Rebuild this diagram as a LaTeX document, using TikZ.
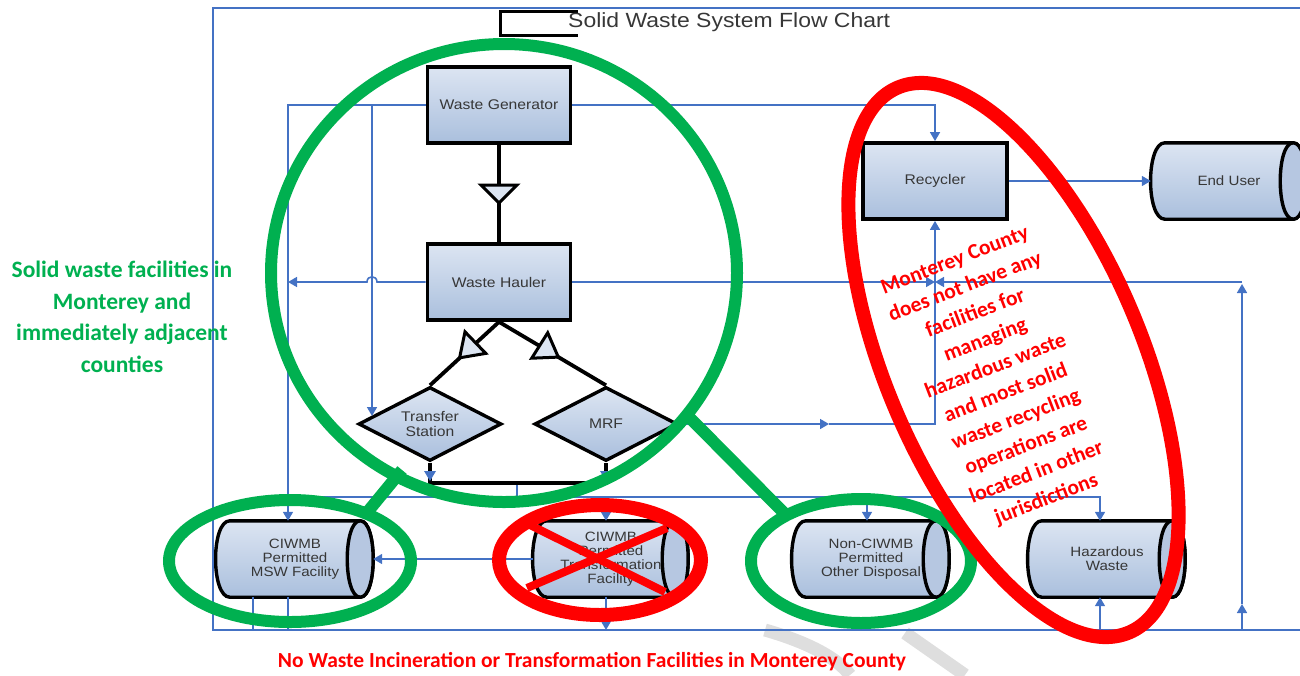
\documentclass[tikz,border=0pt]{standalone}
\usepackage{fontspec}
\setmainfont{Liberation Sans}
\newfontfamily\calib{Carlito}
\usetikzlibrary{arrows.meta,shapes.geometric,calc,backgrounds}
\definecolor{lblue}{RGB}{68,114,196}
\definecolor{boxtop}{RGB}{220,229,242}
\definecolor{boxbot}{RGB}{170,191,221}
\definecolor{capfill}{RGB}{182,199,225}
\definecolor{txtgray}{RGB}{55,55,55}
\definecolor{grn}{RGB}{0,176,80}
\definecolor{rd}{RGB}{255,0,0}
\definecolor{wm}{RGB}{222,222,222}
\newcommand\sx[1]{\scalebox{1.12}[1]{#1}}
\newcommand\cylshape[1]{%
  \path[cylb] (#1.north west) -- (#1.north east)
     .. controls +(17.3,0) and +(17.3,0) .. (#1.south east)
     -- (#1.south west)
     .. controls +(-19,0) and +(-19,0) .. (#1.north west) -- cycle;
  \path[cylc] (#1.north east)
     .. controls +(17.3,0) and +(17.3,0) .. (#1.south east)
     .. controls +(-17.3,0) and +(-17.3,0) .. (#1.north east) -- cycle;}
\tikzset{
  fl/.style={draw=lblue, line width=1.6pt},
  ar/.style={fl, -{Triangle[length=9pt,width=10pt]}},
  blk/.style={draw=black, line width=3.8pt},
  tri/.style={draw=black, line width=3pt, fill=boxtop, line join=miter},
  boxn/.style={rectangle, draw=black, line width=3.8pt, top color=boxtop, bottom color=boxbot,
     minimum width=143pt, minimum height=76pt, font=\fontsize{14}{16}\selectfont, text=txtgray},
  dia/.style={diamond, aspect=1.93, draw=black, line width=3.4pt, top color=boxtop, bottom color=boxbot,
     minimum width=143pt, minimum height=74pt, inner sep=0pt, font=\fontsize{14}{15.5}\selectfont,
     text=txtgray, align=center},
  cylt/.style={rectangle, draw=none, minimum height=76pt, inner sep=0pt,
     font=\fontsize{13.5}{14}\selectfont, text=txtgray, align=center},
  cylb/.style={draw=black, line width=3.4pt, top color=boxtop, bottom color=boxbot},
  cylc/.style={draw=black, line width=3.4pt, fill=capfill},
  gring/.style={draw=grn, line width=12pt},
  rring/.style={draw=rd, line width=14pt},
}
\begin{document}
\begin{tikzpicture}[x=1pt,y=-1pt]
\useasboundingbox (0,0) rectangle (1300,675);

% watermark
\draw[wm, line width=13pt] (765,630) .. controls (800,640) and (835,655) .. (850,675);
\draw[wm, line width=13pt] (905,633) -- (965,675);

% frame
\draw[lblue, line width=2.2pt] (1300,8) -- (213,8) -- (213,630) -- (1300,630);

% title
\draw[black, line width=3pt] (578,11) -- (500,11) -- (500,35) -- (578,35);
\node[anchor=west, font=\fontsize{20.5}{23}\selectfont, text=txtgray, inner sep=0pt] (title) at (568,22) {\sx{Solid Waste System Flow Chart}};

% nodes
\node[boxn] (gen) at (499,105) {\sx{Waste Generator}};
\node[boxn] (haul) at (499,282) {\sx{Waste Hauler}};
\node[boxn, minimum width=144pt] (rec) at (935,181) {\sx{Recycler}};
\node[dia] (ts) at (430,424) {\sx{Transfer}\\\sx{Station}};
\node[dia] (mrf) at (606,424) {\sx{MRF}};
\node[cylt, minimum width=130pt] (msw) at (295,559) {\sx{CIWMB}\\\sx{Permitted}\\\sx{MSW Facility}};
\node[cylt, minimum width=128pt] (trans) at (611,559) {\sx{CIWMB}\\\sx{Permitted}\\\sx{Transformation}\\\sx{Facility}};
\node[cylt, minimum width=130pt] (nonc) at (871,559) {\sx{Non-CIWMB}\\\sx{Permitted}\\\sx{Other Disposal}};
\node[cylt, minimum width=130pt] (haz) at (1107,559) {\sx{Hazardous}\\\sx{Waste}};
\node[cylt, minimum width=128pt] (endu) at (1229,181) {\sx{End User}};

\begin{pgfonlayer}{background}
  \cylshape{msw}
  \cylshape{trans}
  \cylshape{nonc}
  \cylshape{haz}
  \cylshape{endu}
\end{pgfonlayer}

% coordinates
\coordinate (jA) at (288,105);
\coordinate (jB) at (372,105);
\coordinate (jR) at (935,105);
\coordinate (tsIn) at (372,416);
\coordinate (jH) at (935,282);
\coordinate (hA) at (288,282);
\coordinate (mA) at (829,424);
\coordinate (mB) at (935,424);
\coordinate (bR) at (1242,630);
\coordinate (mR) at (1242,604);
\coordinate (tR) at (1242,284);
\coordinate (cR) at (1242,282);
\coordinate (bH) at (1100,630);
\coordinate (hl) at (288,497);
\coordinate (hT) at (606,497);
\coordinate (hN) at (867,497);
\coordinate (hZ) at (1100,497);
\coordinate (jm) at (517,483);
\coordinate (jm2) at (517,497);
\coordinate (b253) at (253,630);
\coordinate (b288) at (288,630);
\coordinate (b606) at (606,630);
\coordinate (jL) at (430,483);
\coordinate (jM) at (606,483);

% blue connectors
\draw[ar] (gen.west) -- (jA) -- (jA |- msw.north);
\draw[ar] (jB) -- (tsIn);
\draw[ar] (gen.east) -- (jR) -- (rec.north);
\draw[ar] (haul.west) -- (377,282) .. controls (377,275) and (367,275) .. (367,282) -- (hA);
\draw[ar] (haul.east) -- (jH);
\draw[ar] (mrf.east) -- (mA);
\draw[ar] (mA) -- (mB) -- (rec.south);
\draw[ar] (bR) -- (mR);
\draw[ar] (mR) -- (tR);
\draw[ar] (cR) -- (jH);
\draw[ar] (bH) -- (bH |- haz.south);
\draw[fl] (jm) -- (jm2);
\draw[ar] (hl) -- (hZ) -- (hZ |- haz.north);
\draw[ar] (hT) -- (hT |- trans.north);
\draw[ar] (hN) -- (hN |- nonc.north);
\draw[ar] ([xshift=-14pt]trans.west) -- ([xshift=13pt]msw.east);
\draw[fl] (b253 |- msw.south) -- (b253);
\draw[fl] (b288 |- msw.south) -- (b288);
\draw[ar] (b606 |- trans.south) -- (b606);
\draw[ar] (rec.east) -- ([xshift=-14pt]endu.west);

% black connectors
\draw[blk] (gen.south) -- (haul.north);
\draw[tri] (481,185) -- (517,185) -- (499,203) -- cycle;
\draw[blk] (haul.south) -- (ts.north);
\draw[blk] (haul.south) -- (mrf.north);
\draw[tri] (485.8,353.4) -- (465.0,331.8) -- (459.6,357.8) -- cycle;
\draw[tri] (531.7,358.2) -- (547.7,332.8) -- (558.3,357.1) -- cycle;
\draw[blk] (ts.south) -- (jL) -- (jM) -- (mrf.south);
\fill[lblue] (424,471) -- (436,471) -- (430,481) -- cycle;
\fill[lblue] (600,471) -- (612,471) -- (606,481) -- cycle;

% green annotations
\draw[gring] (504,273) ellipse [x radius=233, y radius=229];
\draw[gring] (290,561) ellipse [x radius=121, y radius=61];
\draw[gring] (861,561) ellipse [x radius=110, y radius=62];
\draw[gring] (365,515) -- (402,470);
\draw[gring] (690,418) -- (786,515);

% red annotations
\draw[rring, rotate around={-67:(1013.5,360)}] (1013.5,360) ellipse [x radius=296, y radius=128];
\draw[rring] (600,560) ellipse [x radius=101, y radius=55];
\draw[rd, line width=8pt] (530,525) -- (665,592);
\draw[rd, line width=8pt] (667,528) -- (527,588);

% texts
\node[font=\calib\bfseries\fontsize{23.5}{31.5}\selectfont, text=grn, align=center] (lefttxt) at (122,317)
  {Solid waste facilities in\\Monterey and\\immediately adjacent\\counties};
\node[font=\calib\bfseries\fontsize{21.5}{28.4}\selectfont, text=rd, align=center, rotate=21] (redtxt) at (1001,380.5)
  {Monterey County\\does not have any\\facilities for\\managing\\hazardous waste\\and most solid\\waste recycling\\operations are\\located in other\\jurisdictions};
\node[font=\calib\bfseries\fontsize{21.5}{24}\selectfont, text=rd] (bottxt) at (592,662)
  {No Waste Incineration or Transformation Facilities in Monterey County};
\end{tikzpicture}
\end{document}
